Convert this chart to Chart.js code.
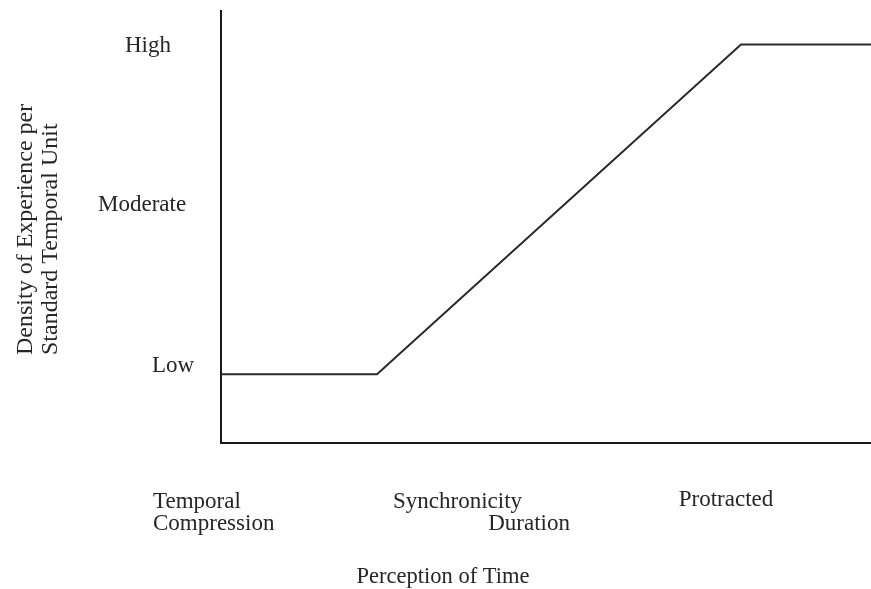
<!DOCTYPE html>
<html>
<head>
<meta charset="utf-8">
<script src="https://cdn.jsdelivr.net/npm/chart.js@4/dist/chart.umd.min.js"></script>
<style>
  html, body { margin: 0; padding: 0; background: #fff; }
  #wrap { width: 871px; height: 589px; }
</style>
</head>
<body>
<div id="wrap"><canvas id="c" width="871" height="589"></canvas></div>
<script>
// ---- data ----
const perceptionX = [0, 2.4, 8, 10];
const densityY = [0.94, 0.94, 3.0, 3.0];
const yLevelValues = [1, 2, 3];
const yLevelLabels = ['Low', 'Moderate', 'High'];
const xCategoryLabels = ['Temporal', 'Compression', 'Synchronicity', 'Duration', 'Protracted'];
const xTitle = 'Perception of Time';
const yTitleLines = ['Density of Experience per', 'Standard Temporal Unit'];

const points = perceptionX.map((x, i) => ({ x: x, y: densityY[i] }));

const FONT = '"Liberation Serif", "Times New Roman", serif';
const TEXT_COLOR = '#262626';

const textPlugin = {
  id: 'textPlugin',
  afterDraw(chart) {
    const ctx = chart.ctx;
    const ys = chart.scales.y;
    ctx.save();
    ctx.fillStyle = TEXT_COLOR;
    ctx.font = '23px ' + FONT;
    ctx.textBaseline = 'alphabetic';

    // y level labels (positions from the y scale)
    const yLeft = [152, 98, 125];
    const yOffset = [7, 6, 7];
    yLevelValues.forEach((v, i) => {
      ctx.textAlign = 'left';
      ctx.fillText(yLevelLabels[i], yLeft[i], ys.getPixelForValue(v) + yOffset[i]);
    });

    // x category labels
    ctx.textAlign = 'left';
    ctx.fillText(xCategoryLabels[0], 153, 508);
    ctx.fillText(xCategoryLabels[1], 153, 530);
    ctx.fillText(xCategoryLabels[2], 393, 508);
    ctx.textAlign = 'right';
    ctx.fillText(xCategoryLabels[3], 570, 530);
    ctx.textAlign = 'center';
    ctx.fillText(xCategoryLabels[4], 726, 506);

    // x title
    ctx.textAlign = 'center';
    ctx.font = '22.5px ' + FONT;
    ctx.fillText(xTitle, 443, 583);

    // y title (rotated)
    ctx.font = '24px ' + FONT;
    ctx.translate(0, 355);
    ctx.rotate(-Math.PI / 2);
    ctx.textAlign = 'left';
    ctx.fillText(yTitleLines[0], 0, 32);
    ctx.fillText(yTitleLines[1], 0, 57);
    ctx.restore();
  }
};

new Chart(document.getElementById('c'), {
  type: 'line',
  data: {
    datasets: [{
      data: points,
      borderColor: '#2a2a2a',
      borderWidth: 2,
      pointRadius: 0,
      tension: 0,
      fill: false
    }]
  },
  options: {
    responsive: false,
    animation: false,
    devicePixelRatio: 1,
    layout: { padding: { left: 221, top: 11, right: 0, bottom: 146 } },
    plugins: { legend: { display: false }, tooltip: { enabled: false }, title: { display: false } },
    scales: {
      x: {
        type: 'linear',
        min: 0, max: 10,
        grid: { display: false, drawTicks: false },
        ticks: { display: false },
        border: { display: true, color: '#1a1a1a', width: 2 }
      },
      y: {
        type: 'linear',
        min: 0.51, max: 3.21,
        grid: { display: false, drawTicks: false },
        ticks: { display: false },
        border: { display: true, color: '#1a1a1a', width: 2 }
      }
    }
  },
  plugins: [textPlugin]
});
</script>
</body>
</html>
